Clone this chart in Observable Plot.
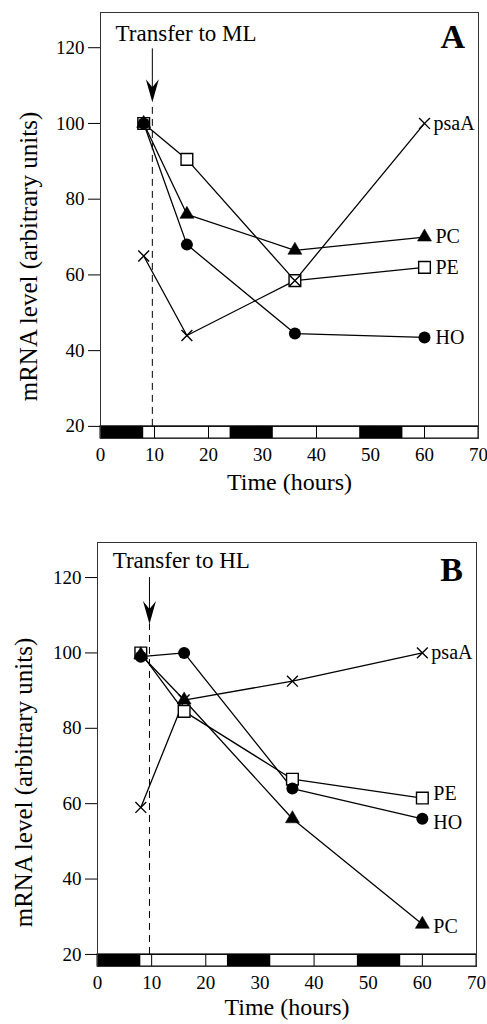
<!DOCTYPE html>
<html>
<head>
<meta charset="utf-8">
<script src="https://cdn.jsdelivr.net/npm/d3@7"></script>
<script src="https://cdn.jsdelivr.net/npm/@observablehq/plot@0.6"></script>
<style>
  html, body { margin: 0; padding: 0; background: #fff; }
  #chart svg { display: block; }
</style>
</head>
<body>
<div id="chart"></div>
<script>
// ---- data ----
const hours = [8, 16, 36, 60];
const seriesNames = ["PE", "PC", "HO", "psaA"];
const xTicks = [0, 10, 20, 30, 40, 50, 60, 70];
const yTicks = [20, 40, 60, 80, 100, 120];

// Panel A (transfer to ML)
const A_PE   = [100, 90.5, 58.5, 62];
const A_PC   = [100, 76, 66.5, 70];
const A_HO   = [100, 68, 44.5, 43.5];
const A_psaA = [65, 44, 58.5, 100];
const A_labelY = {psaA: 100, PC: 70, PE: 62, HO: 43.5};

// Panel B (transfer to HL)
const B_PE   = [100, 84.5, 66.5, 61.5];
const B_PC   = [99.5, 87.5, 56, 28];
const B_HO   = [99, 100, 64, 56];
const B_psaA = [59, 87.5, 92.5, 100];
const B_labelY = {psaA: 100, PE: 62.8, HO: 55, PC: 27.3};

// light/dark regime bar (hours)
const darkPeriods = [[0, 8], [24, 32], [48, 56]];

const transferHour = 9.6;

function buildRows(vals) {
  const rows = [];
  for (const s of seriesNames) {
    vals[s].forEach((v, i) => rows.push({series: s, x: hours[i], y: v}));
  }
  return rows;
}

const arrowHead = {
  draw(ctx) {
    ctx.moveTo(0, 0);
    ctx.lineTo(-6.5, -23);
    ctx.lineTo(0, -15);
    ctx.lineTo(6.5, -23);
    ctx.closePath();
  }
};

function panel(cfg) {
  const rows = buildRows(cfg.vals);
  const yMin = 16.8, yMax = 129.3;
  const bySeries = s => rows.filter(d => d.series === s);
  const labels = seriesNames.map(s => ({series: s, x: 60, y: cfg.labelY[s]}));
  return Plot.plot({
    width: 487,
    height: 512,
    marginTop: cfg.mt,
    marginBottom: cfg.mb,
    marginLeft: cfg.ml,
    marginRight: cfg.mr,
    style: {fontFamily: "'Liberation Serif', 'Times New Roman', serif", fontSize: "19px", color: "#000", background: "#fff"},
    x: {domain: [0, 70], ticks: xTicks, tickSize: 0, tickPadding: 9, label: null},
    y: {domain: [yMin, yMax], ticks: yTicks, tickSize: 12, tickPadding: 4, label: null},
    marks: [
      // light/dark bar
      Plot.rect([{x1: 0, x2: 70}], {x1: "x1", x2: "x2", y1: yMin, y2: 20, fill: "white", stroke: "black", strokeWidth: 1}),
      Plot.rect(darkPeriods, {x1: d => d[0], x2: d => d[1], y1: yMin, y2: 20, fill: "black"}),
      Plot.ruleX(xTicks, {y1: yMin, y2: 20, stroke: "black", strokeWidth: 1}),
      Plot.ruleY([20], {stroke: "black", strokeWidth: 1}),
      Plot.frame({stroke: "#333", strokeWidth: 1}),
      // transfer marker
      Plot.ruleX([transferHour], {y1: 20, y2: cfg.arrowTip, stroke: "black", strokeWidth: 1, strokeDasharray: "7,5"}),
      Plot.ruleX([transferHour], {y1: cfg.arrowTip + 3, y2: cfg.arrowTop, stroke: "black", strokeWidth: 1}),
      Plot.dot([{x: transferHour, y: cfg.arrowTip}], {x: "x", y: "y", symbol: arrowHead, fill: "black", stroke: "none", r: 5}),
      Plot.text([cfg.transferText], {x: 2.8, y: cfg.transferY, text: d => d, textAnchor: "start", fontSize: 23}),
      Plot.text([cfg.letter], {x: 67.5, y: cfg.letterY, text: d => d, textAnchor: "end", fontSize: 34, fontWeight: "bold"}),
      // series
      Plot.line(rows, {x: "x", y: "y", z: "series", stroke: "black", strokeWidth: 1.3}),
      Plot.dot(bySeries("PE"), {x: "x", y: "y", symbol: "square", r: 6.6, fill: "white", stroke: "black", strokeWidth: 1.4}),
      Plot.dot(bySeries("PC"), {x: "x", y: "y", symbol: "triangle", r: 5.2, fill: "black", stroke: "black", strokeWidth: 0.5}),
      Plot.dot(bySeries("HO"), {x: "x", y: "y", symbol: "circle", r: 6, fill: "black", stroke: "none"}),
      Plot.dot(bySeries("psaA"), {x: "x", y: "y", symbol: "times", r: 5, stroke: "black", strokeWidth: 1.4}),
      Plot.text(labels, {x: "x", y: "y", text: "series", textAnchor: "start", fontSize: 20}),
      // axis titles
      Plot.text(["Time (hours)"], {frameAnchor: "bottom", dy: cfg.xTitleDy, text: d => d, fontSize: 24, textAnchor: "middle"}),
      Plot.text(["mRNA level (arbitrary units)"], {frameAnchor: "left", dx: cfg.yTitleDx, dy: cfg.yTitleDy, rotate: -90, text: d => d, fontSize: 25, textAnchor: "middle", lineAnchor: "middle"})
    ]
  });
}

const container = document.getElementById("chart");
const pA = panel({
  vals: {PE: A_PE, PC: A_PC, HO: A_HO, psaA: A_psaA},
  labelY: A_labelY,
  mt: 12, mb: 74, ml: 100, mr: 9,
  arrowTip: 105.6, arrowTop: 119.7,
  transferText: "Transfer to ML", transferY: 123.7,
  letter: "A", letterY: 122.9,
  xTitleDy: 51, yTitleDx: -72, yTitleDy: 31
});
const pB = panel({
  vals: {PE: B_PE, PC: B_PC, HO: B_HO, psaA: B_psaA},
  labelY: B_labelY,
  mt: 30, mb: 58, ml: 97, mr: 11,
  arrowTip: 107.7, arrowTop: 120,
  transferText: "Transfer to HL", transferY: 124.4,
  letter: "B", letterY: 121.9,
  xTitleDy: 48, yTitleDx: -74, yTitleDy: 28
});
container.appendChild(pA);
container.appendChild(pB);

// series label offsets from the last data point
for (const svg of [pA, pB]) {
  svg.querySelectorAll("text").forEach(t => {
    const s = t.textContent;
    if (s === "psaA") t.setAttribute("dx", "9");
    else if (s === "PC" || s === "PE" || s === "HO") t.setAttribute("dx", "11");
  });
}
</script>
</body>
</html>
